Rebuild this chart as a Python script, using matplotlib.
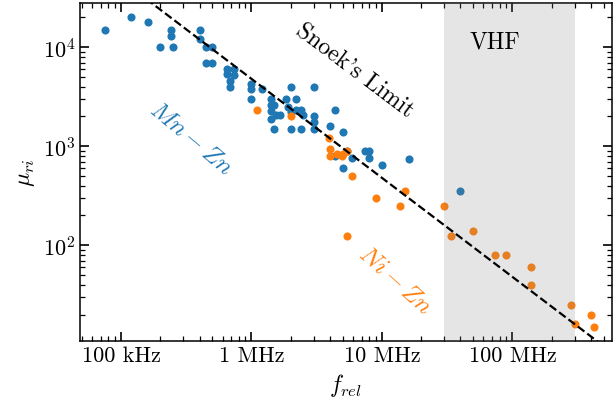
import numpy as np
import matplotlib
matplotlib.use("Agg")
import matplotlib.pyplot as plt
from matplotlib.ticker import FixedLocator, FixedFormatter

plt.rcParams['font.family'] = 'serif'
plt.rcParams['font.serif'] = ['cmr10']
plt.rcParams['mathtext.fontset'] = 'cm'
plt.rcParams['axes.formatter.use_mathtext'] = True

# Mn-Zn ferrites: relaxation frequency (Hz) and initial permeability
mnzn_f = [7.5e4, 1.2e5, 1.6e5, 2.4e5, 2.4e5, 2.0e5, 2.5e5, 4.0e5, 4.0e5, 4.5e5,
          5.0e5, 4.5e5, 5.0e5, 6.5e5, 7.3e5, 6.5e5, 7.3e5, 6.8e5, 6.9e5, 1.0e6,
          1.0e6, 1.2e6, 1.0e6, 2.0e6, 3.0e6, 1.4e6, 1.4e6, 1.5e6, 1.85e6, 2.2e6,
          1.4e6, 1.55e6, 1.4e6, 1.65e6, 1.9e6, 2.0e6, 2.2e6, 2.4e6, 2.5e6, 3.0e6,
          3.0e6, 4.4e6, 1.5e6, 2.0e6, 2.4e6, 3.0e6, 4.0e6, 5.0e6, 7.4e6, 8.0e6,
          7.9e6, 5.9e6, 5.0e6, 1.0e7, 1.6e7, 4.4e6, 5.4e6, 4.0e7]
mnzn_mu = [15000, 20000, 18000, 15000, 13000, 10000, 10000, 15000, 12000, 10000,
           10000, 7000, 7000, 6000, 6000, 5400, 5200, 4600, 4000, 4300,
           3800, 3800, 3000, 4000, 4000, 3000, 2600, 2600, 3000, 3000,
           2250, 2050, 1900, 2050, 2500, 2200, 2300, 2300, 2050, 2000,
           1750, 2300, 1500, 1500, 1500, 1500, 1600, 1400, 900, 900,
           760, 760, 600, 650, 750, 800, 900, 350]

# Ni-Zn ferrites
nizn_f = [1.1e6, 2.0e6, 3.9e6, 4.0e6, 4.0e6, 4.5e6, 5.0e6, 5.4e6, 4.9e6, 5.9e6,
          9.0e6, 1.37e7, 1.5e7, 3.0e7, 5.4e6, 3.4e7, 5.0e7, 7.3e7, 8.9e7, 1.38e8,
          1.38e8, 2.8e8, 3.0e8, 4.0e8, 4.2e8]
nizn_mu = [2300, 2000, 1200, 940, 800, 840, 840, 900, 800, 500,
           300, 250, 355, 250, 125, 125, 140, 80, 80, 60,
           40, 25, 16, 20, 15]

snoek_const = 4.8e9          # mu * f along Snoek's limit
vhf_band = (30e6, 300e6)
xticks = [1e5, 1e6, 1e7, 1e8]
xticklabels = ['100 kHz', '1 MHz', '10 MHz', '100 MHz']

fig = plt.figure(figsize=(6.16, 4.14), dpi=100)
ax = fig.add_axes([80 / 616, 72 / 414, 532 / 616, 338 / 414])
ax.set_xscale('log')
ax.set_yscale('log')
ax.set_xlim(4.85e4, 5.8e8)
ax.set_ylim(10.8, 28000)

ax.scatter(mnzn_f, mnzn_mu, s=34, color='#1f77b4', zorder=2, linewidths=0)
ax.scatter(nizn_f, nizn_mu, s=34, color='#ff7f0e', zorder=2, linewidths=0)
ax.axvspan(*vhf_band, color='0.5', alpha=0.2, lw=0, zorder=3)

f_line = np.logspace(4.6, 8.8, 50)
ax.plot(f_line, snoek_const / f_line, 'k--', lw=1.6, zorder=4)

ax.text(6.2e6, 5800, "Snoek's Limit", rotation=-37, ha='center', va='center',
        fontsize=17)
ax.text(3.4e5, 1200, r'$Mn-Zn$', rotation=-40, ha='center', va='center',
        fontsize=18, color='#1f77b4')
ax.text(1.26e7, 44, r'$Ni-Zn$', rotation=-42, ha='center', va='center',
        fontsize=18, color='#ff7f0e')
ax.text(7.3e7, 11500, 'VHF', ha='center', va='center', fontsize=17)

ax.xaxis.set_major_locator(FixedLocator(xticks))
ax.xaxis.set_major_formatter(FixedFormatter(xticklabels))
ax.tick_params(which='both', direction='in', top=True, right=True, labelsize=16)
ax.tick_params(which='major', length=6.5, width=1.2)
ax.tick_params(which='minor', length=3.4, width=0.9)
for sp in ax.spines.values():
    sp.set_linewidth(1.1)

ax.set_xlabel(r'$f_{rel}$', fontsize=17)
ax.set_ylabel(r'$\mu_{ri}$', fontsize=17)

fig.savefig('out.png', dpi=100)
